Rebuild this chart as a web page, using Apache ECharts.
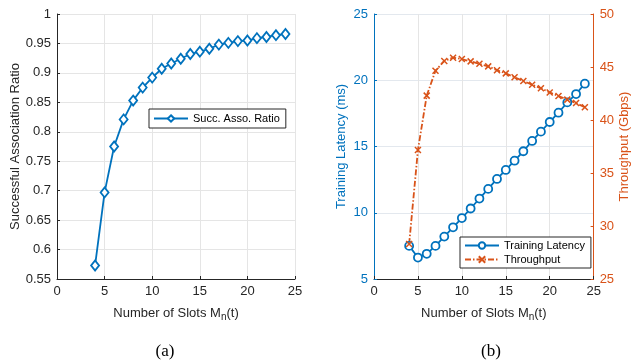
<!DOCTYPE html>
<html>
<head>
<meta charset="utf-8">
<script src="https://cdn.jsdelivr.net/npm/echarts@6/dist/echarts.min.js"></script>
<style>
  html, body { margin: 0; padding: 0; background: #fff; }
  #chart { width: 632px; height: 360px; }
</style>
</head>
<body>
<div id="chart"></div>
<script>
// slots M_n(t)
const slots = [4, 5, 6, 7, 8, 9, 10, 11, 12, 13, 14, 15, 16, 17, 18, 19, 20, 21, 22, 23, 24];
// (a) successful association ratio
const assoRatio = [0.573, 0.697, 0.775, 0.821, 0.853, 0.875, 0.892, 0.907, 0.916, 0.924, 0.932,
  0.936, 0.941, 0.948, 0.951, 0.954, 0.955, 0.959, 0.961, 0.964, 0.966];
// (b) training latency (ms)
const latency = [7.5, 6.62, 6.9, 7.5, 8.2, 8.9, 9.6, 10.32, 11.07, 11.8, 12.55,
  13.23, 13.93, 14.64, 15.42, 16.12, 16.85, 17.55, 18.33, 18.96, 19.74];
// (b) throughput (Gbps)
const throughput = [28.3, 37.17, 42.3, 44.65, 45.57, 45.88, 45.75, 45.53, 45.3, 45.06, 44.7,
  44.4, 44.03, 43.68, 43.33, 42.99, 42.6, 42.26, 41.92, 41.6, 41.2];

const BLUE = "#0072BD";
const ORANGE = "#D95319";
const DARK = "#262626";
const GRID = "#e5e5e5";
const FONT = "Liberation Sans";
const crossPath = "path://M0,0L10,10M10,0L0,10";

const pairs = (ys) => slots.map((x, i) => [x, ys[i]]);

const xName = "{a|Number of Slots M}{s|n}{a|(t)}";
const xRich = {
  a: { fontSize: 13, color: DARK, fontFamily: FONT, lineHeight: 16 },
  s: { fontSize: 10, color: DARK, fontFamily: FONT, lineHeight: 16, verticalAlign: "bottom", padding: [9, 0, 0, 0] },
};

const xAxisBase = (gi) => ({
  gridIndex: gi,
  type: "value",
  min: 0,
  max: 25,
  interval: 5,
  name: xName,
  nameLocation: "middle",
  nameGap: 20,
  nameTextStyle: { rich: xRich },
  axisLine: { onZero: false, lineStyle: { color: DARK } },
  axisTick: { inside: true, length: 3, lineStyle: { color: DARK } },
  axisLabel: { color: DARK, fontSize: 13, fontFamily: FONT, margin: 6 },
  splitLine: { show: true, lineStyle: { color: GRID } },
});

const chart = echarts.init(document.getElementById("chart"));
chart.setOption({
  animation: false,
  textStyle: { fontFamily: FONT },
  title: [
    { text: "(a)", left: 160, top: 338, textAlign: "center",
      textStyle: { fontFamily: "Liberation Serif", fontSize: 17, fontWeight: "normal", color: "#000" } },
    { text: "(b)", left: 486, top: 338, textAlign: "center",
      textStyle: { fontFamily: "Liberation Serif", fontSize: 17, fontWeight: "normal", color: "#000" } },
  ],
  grid: [
    { left: 57, top: 14, width: 238, height: 265 },
    { left: 374, top: 14, width: 220, height: 265 },
  ],
  legend: [
    {
      data: ["Succ. Asso. Ratio"],
      left: 149, top: 109,
      orient: "vertical",
      itemWidth: 34, itemHeight: 8,
      padding: [4, 6, 4, 4],
      borderColor: DARK, borderWidth: 1,
      backgroundColor: "#fff",
      textStyle: { fontSize: 11, color: "#000", fontFamily: FONT },
    },
    {
      data: ["Training Latency", "Throughput"],
      left: 460, top: 237,
      orient: "vertical",
      itemGap: 3,
      itemWidth: 34, itemHeight: 8,
      padding: [3, 6, 3, 4],
      borderColor: DARK, borderWidth: 1,
      backgroundColor: "#fff",
      textStyle: { fontSize: 11, color: "#000", fontFamily: FONT },
    },
  ],
  xAxis: [xAxisBase(0), xAxisBase(1)],
  yAxis: [
    {
      gridIndex: 0,
      type: "value",
      min: 0.55,
      max: 1,
      interval: 0.05,
      name: "Successful Association Ratio",
      nameLocation: "middle",
      nameGap: 33,
      nameTextStyle: { color: DARK, fontSize: 13, fontFamily: FONT },
      axisLine: { show: true, lineStyle: { color: DARK } },
      axisTick: { inside: true, length: 3, lineStyle: { color: DARK } },
      axisLabel: { color: DARK, fontSize: 13, fontFamily: FONT, margin: 6,
        formatter: (v) => String(+v.toFixed(2)) },
      splitLine: { show: true, lineStyle: { color: GRID } },
    },
    {
      gridIndex: 1,
      type: "value",
      min: 5,
      max: 25,
      interval: 5,
      name: "Training Latency (ms)",
      nameLocation: "middle",
      nameGap: 26,
      nameTextStyle: { color: BLUE, fontSize: 13, fontFamily: FONT },
      axisLine: { show: true, lineStyle: { color: BLUE } },
      axisTick: { inside: true, length: 3, lineStyle: { color: BLUE } },
      axisLabel: { color: BLUE, fontSize: 13, fontFamily: FONT, margin: 6 },
      splitLine: { show: true, lineStyle: { color: "#e3e8ee" } },
    },
    {
      gridIndex: 1,
      type: "value",
      position: "right",
      min: 25,
      max: 50,
      interval: 5,
      name: "Throughput (Gbps)",
      nameLocation: "middle",
      nameGap: 24,
      nameTextStyle: { color: ORANGE, fontSize: 13, fontFamily: FONT },
      axisLine: { show: true, lineStyle: { color: ORANGE } },
      axisTick: { inside: true, length: 3, lineStyle: { color: ORANGE } },
      axisLabel: { color: ORANGE, fontSize: 13, fontFamily: FONT, margin: 6 },
      splitLine: { show: false },
    },
  ],
  series: [
    {
      name: "Succ. Asso. Ratio",
      type: "line",
      xAxisIndex: 0,
      yAxisIndex: 0,
      data: pairs(assoRatio),
      symbol: "diamond",
      symbolSize: [8, 10],
      showAllSymbol: true,
      itemStyle: { color: "#fff", borderColor: BLUE, borderWidth: 1.8 },
      lineStyle: { color: BLUE, width: 1.8 },
    },
    {
      name: "Training Latency",
      type: "line",
      xAxisIndex: 1,
      yAxisIndex: 1,
      data: pairs(latency),
      symbol: "circle",
      symbolSize: 8,
      showAllSymbol: true,
      itemStyle: { color: "#fff", borderColor: BLUE, borderWidth: 1.8 },
      lineStyle: { color: BLUE, width: 1.8 },
    },
    {
      name: "Throughput",
      type: "line",
      xAxisIndex: 1,
      yAxisIndex: 2,
      data: pairs(throughput),
      symbol: crossPath,
      symbolSize: 6,
      showAllSymbol: true,
      itemStyle: { color: ORANGE, borderColor: ORANGE, borderWidth: 1.5 },
      lineStyle: { color: ORANGE, width: 1.8, type: [6, 2, 1.5, 2] },
    },
  ],
});
</script>
</body>
</html>
